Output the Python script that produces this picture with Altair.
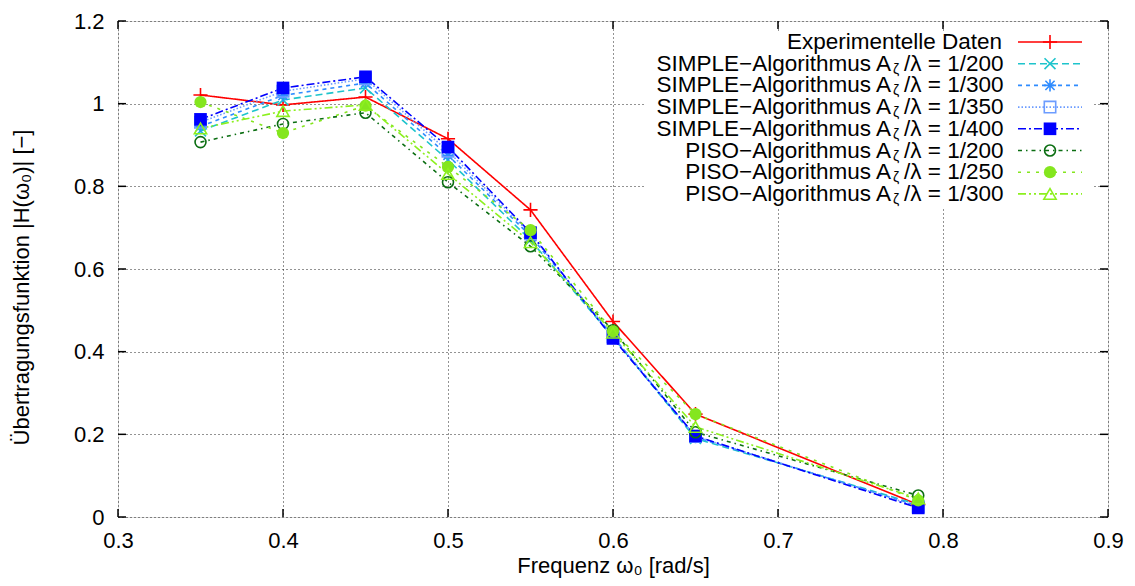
import altair as alt
import pandas as pd

# ---------------- data ----------------
x_vals = [0.35, 0.40, 0.45, 0.50, 0.55, 0.60, 0.65, 0.785]

exp_vals = [1.021, 0.997, 1.016, 0.915, 0.743, 0.473, 0.249, 0.030]
s200_vals = [0.934, 1.009, 1.038, 0.864, 0.670, 0.435, 0.190, 0.030]
s300_vals = [0.945, 1.020, 1.050, 0.875, 0.680, 0.437, 0.193, 0.027]
s350_vals = [0.955, 1.030, 1.060, 0.885, 0.685, 0.436, 0.195, 0.025]
s400_vals = [0.962, 1.038, 1.065, 0.895, 0.688, 0.432, 0.196, 0.022]
p200_vals = [0.907, 0.951, 0.978, 0.810, 0.655, 0.452, 0.205, 0.052]
p250_vals = [1.004, 0.929, 0.995, 0.847, 0.694, 0.449, 0.249, 0.040]
p300_vals = [0.940, 0.982, 0.997, 0.830, 0.665, 0.446, 0.218, 0.045]

series_vals = [exp_vals, s200_vals, s300_vals, s350_vals, s400_vals,
               p200_vals, p250_vals, p300_vals]

legend_prefix = ["Experimentelle Daten",
                 "SIMPLE−Algorithmus A", "SIMPLE−Algorithmus A",
                 "SIMPLE−Algorithmus A", "SIMPLE−Algorithmus A",
                 "PISO−Algorithmus A", "PISO−Algorithmus A", "PISO−Algorithmus A"]
legend_suffix = ["", "/λ = 1/200", "/λ = 1/300", "/λ = 1/350", "/λ = 1/400",
                 "/λ = 1/200", "/λ = 1/250", "/λ = 1/300"]

x_ticks = [0.3, 0.4, 0.5, 0.6, 0.7, 0.8, 0.9]
y_ticks = [0, 0.2, 0.4, 0.6, 0.8, 1.0, 1.2]

# ---------------- styles ----------------
PLUS = "M-1,0L1,0M0,-1L0,1"
XMARK = "M-1,-1L1,1M1,-1L-1,1"
STAR = "M-1,0L1,0M0,-1L0,1M-0.75,-0.75L0.75,0.75M0.75,-0.75L-0.75,0.75"

colors = ["#ff0000", "#1ec4cc", "#2f8cff", "#6c9cff", "#0000ff",
          "#0b6e12", "#84e61e", "#8cf01e"]
dashes = [[1, 0], [7, 4], [4, 4], [1.5, 2], [8, 3, 2, 3], [4, 4, 1.5, 4],
          [3, 6], [8, 3, 2, 3, 2, 3]]
shapes = [PLUS, XMARK, STAR, "square", "square", "circle", "circle", "triangle-up"]
filled = [False, False, False, False, True, False, True, False]
sizes = [200, 120, 150, 130, 160, 120, 150, 150]

FONT = "Liberation Sans"
W, H = 990, 496

X = alt.X("x:Q",
          scale=alt.Scale(domain=[0.3, 0.9], nice=False, zero=False),
          axis=alt.Axis(values=x_ticks, format="~g", title="Frequenz ω₀ [rad/s]",
                        grid=True, gridColor="#000000", gridDash=[1, 3],
                        gridOpacity=0.85, gridWidth=1,
                        domain=False, ticks=False, labelPadding=13,
                        labelFont=FONT, labelFontSize=22, labelColor="#000",
                        titleFont=FONT, titleFontSize=22, titleFontWeight="normal",
                        titleColor="#000", titlePadding=4, labelFlush=False))
Y = alt.Y("y:Q",
          scale=alt.Scale(domain=[0, 1.2], nice=False, zero=True),
          axis=alt.Axis(values=y_ticks, format="~g",
                        title="Übertragungsfunktion |H(ω₀)| [−]",
                        grid=True, gridColor="#000000", gridDash=[1, 3],
                        gridOpacity=0.85, gridWidth=1,
                        domain=False, ticks=False, labelPadding=14,
                        labelFont=FONT, labelFontSize=22, labelColor="#000",
                        titleFont=FONT, titleFontSize=22, titleFontWeight="normal",
                        titleColor="#000", titleX=-97, titleY=266,
                        titleAlign="center", titleBaseline="middle",
                        titleAngle=270, labelFlush=False))

layers = []
for i, vals in enumerate(series_vals):
    df = pd.DataFrame({"x": x_vals, "y": vals})
    layers.append(alt.Chart(df).mark_line(color=colors[i], strokeDash=dashes[i],
                                          strokeWidth=1.6).encode(x=X, y=Y))
for i, vals in enumerate(series_vals):
    df = pd.DataFrame({"x": x_vals, "y": vals})
    layers.append(alt.Chart(df).mark_point(shape=shapes[i], filled=filled[i],
                                           size=sizes[i], color=colors[i],
                                           strokeWidth=1.6, opacity=1)
                  .encode(x=X, y=Y))

# inward ticks on all four sides
xt = pd.DataFrame({"x": x_ticks})
yt = pd.DataFrame({"y": y_ticks})
tick_style = dict(color="#000", strokeWidth=1.5)
layers.append(alt.Chart(xt).mark_rule(**tick_style).encode(
    x=X, y=alt.value(H), y2=alt.value(H - 8)))
layers.append(alt.Chart(xt).mark_rule(**tick_style).encode(
    x=X, y=alt.value(0), y2=alt.value(8)))
layers.append(alt.Chart(yt).mark_rule(**tick_style).encode(
    y=Y, x=alt.value(0), x2=alt.value(8)))
layers.append(alt.Chart(yt).mark_rule(**tick_style).encode(
    y=Y, x=alt.value(W - 8), x2=alt.value(W)))

main = alt.layer(*layers)

# ---------------- legend (gnuplot style: text left, sample right) ----------------
LFS = 22.5
LY = alt.Y("row:Q", scale=alt.Scale(domain=[0, 7], range=[21, 172.9]), axis=None)
leg_layers = [
    alt.Chart(pd.DataFrame({"row": [0]})).mark_rect(fill="white", stroke=None)
    .encode(x=alt.value(527), x2=alt.value(976), y=alt.value(10), y2=alt.value(188))
]
for i in range(len(series_vals)):
    ldf = pd.DataFrame({"row": [i], "pre": [legend_prefix[i]],
                        "suf": [legend_suffix[i]], "sub": ["ζ"]})
    base = alt.Chart(ldf)
    if legend_suffix[i] == "":
        leg_layers.append(base.mark_text(align="right", baseline="middle", font=FONT,
                                         fontSize=LFS, color="#000")
                          .encode(x=alt.value(884), y=LY, text="pre:N"))
    else:
        leg_layers.append(base.mark_text(align="right", baseline="middle", font=FONT,
                                         fontSize=LFS, color="#000")
                          .encode(x=alt.value(773), y=LY, text="pre:N"))
        leg_layers.append(base.mark_text(align="left", baseline="middle", font=FONT,
                                         fontSize=14, color="#000", dy=6)
                          .encode(x=alt.value(775), y=LY, text="sub:N"))
        leg_layers.append(base.mark_text(align="left", baseline="middle", font=FONT,
                                         fontSize=LFS, color="#000")
                          .encode(x=alt.value(786), y=LY, text="suf:N"))
    leg_layers.append(base.mark_rule(color=colors[i], strokeDash=dashes[i],
                                     strokeWidth=1.6)
                      .encode(x=alt.value(900), x2=alt.value(964), y=LY))
    leg_layers.append(base.mark_point(shape=shapes[i], filled=filled[i],
                                      size=sizes[i], color=colors[i],
                                      strokeWidth=1.6, opacity=1)
                      .encode(x=alt.value(932), y=LY))

legend = alt.layer(*leg_layers)

chart = (alt.layer(main, legend)
         .resolve_scale(y="independent")
         .properties(width=W, height=H, autosize=alt.AutoSizeParams(type="none"),
                     padding={"left": 110, "top": 13, "right": 19, "bottom": 61})
         .configure_view(stroke="#000", strokeWidth=2)
         .configure(background="white"))

chart.save("out.html", embed_options={"renderer": "svg", "actions": False})
